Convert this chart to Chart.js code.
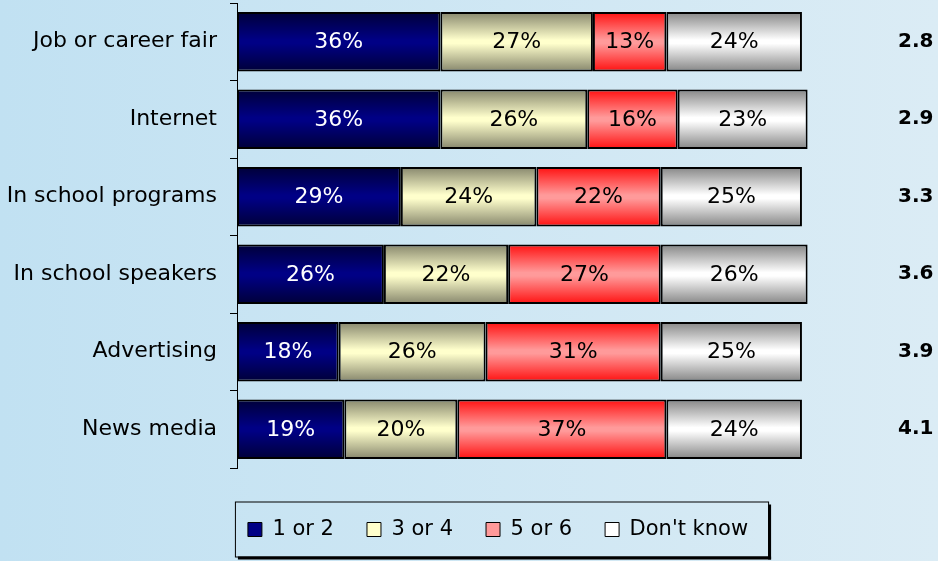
<!DOCTYPE html>
<html>
<head>
<meta charset="utf-8">
<script src="https://cdn.jsdelivr.net/npm/chart.js@4"></script>
<style>
  html, body { margin: 0; padding: 0; }
  #wrap { width: 938px; height: 561px; }
</style>
</head>
<body>
<div id="wrap"><canvas id="myChart" width="938" height="561"></canvas></div>
<script>
const categories = ['Job or career fair', 'Internet', 'In school programs', 'In school speakers', 'Advertising', 'News media'];
const seriesNames = ['1 or 2', '3 or 4', '5 or 6', "Don't know"];
const oneOrTwo = [36, 36, 29, 26, 18, 19];
const threeOrFour = [27, 26, 24, 22, 26, 20];
const fiveOrSix = [13, 16, 22, 27, 31, 37];
const dontKnow = [24, 23, 25, 26, 25, 24];
const meanScores = ['2.8', '2.9', '3.3', '3.6', '3.9', '4.1'];

// edge / middle colours of the shaded bars
const shades = [
    { edge: '#000038', mid: '#000085', text: '#ffffff' },
    { edge: '#86866c', mid: '#ffffcc', text: '#000000' },
    { edge: '#ff1010', mid: '#ff9a9a', text: '#000000' },
    { edge: '#858585', mid: '#ffffff', text: '#000000' }
];

const BAR_PCT = 0.77;
const FONT = "'DejaVu Sans', Verdana, sans-serif";

function barFill(i) {
    return function(context) {
        const s = shades[i];
        if (context.type !== 'data') return s.mid;
        const chart = context.chart;
        const yScale = chart.scales.y;
        if (!yScale) return s.mid;
        const cy = yScale.getPixelForValue(context.dataIndex);
        const half = (yScale.height / categories.length) * BAR_PCT / 2;
        const g = chart.ctx.createLinearGradient(0, cy - half, 0, cy + half);
        g.addColorStop(0, s.edge);
        g.addColorStop(0.47, s.mid);
        g.addColorStop(0.53, s.mid);
        g.addColorStop(1, s.edge);
        return g;
    };
}

const background = {
    id: 'background',
    beforeDraw(chart) {
        const { ctx, width, height } = chart;
        const g = ctx.createLinearGradient(0, 0, width, 0);
        g.addColorStop(0, '#c1e1f2');
        g.addColorStop(1, '#dbecf5');
        ctx.save();
        ctx.fillStyle = g;
        ctx.fillRect(0, 0, width, height);
        ctx.restore();
    }
};

// legend sits a bit right of the canvas centre
const legendShift = {
    id: 'legendShift',
    afterLayout(chart) {
        if (chart.legend) chart.legend.left = 58;
    }
};

const barValues = {
    id: 'barValues',
    afterDatasetsDraw(chart) {
        const ctx = chart.ctx;
        ctx.save();
        ctx.font = '22px ' + FONT;
        ctx.textAlign = 'center';
        ctx.textBaseline = 'middle';
        chart.data.datasets.forEach((ds, i) => {
            const meta = chart.getDatasetMeta(i);
            ctx.fillStyle = shades[i].text;
            meta.data.forEach((bar, j) => {
                ctx.fillText(ds.data[j] + '%', (bar.x + bar.base) / 2, bar.y + 1);
            });
        });
        ctx.restore();
    }
};

const legendFrame = {
    id: 'legendFrame',
    afterDraw(chart) {
        const lg = chart.legend;
        if (!lg || !lg.legendHitBoxes || !lg.legendHitBoxes.length) return;
        const boxes = lg.legendHitBoxes;
        const first = boxes[0];
        const last = boxes[boxes.length - 1];
        const cy = first.top + first.height / 2;
        const x1 = first.left - 13;
        const x2 = last.left + last.width + 20;
        const y1 = cy - 28;
        const y2 = cy + 27;
        const ctx = chart.ctx;
        ctx.save();
        ctx.fillStyle = '#000';
        ctx.fillRect(x1 + 3, y2, x2 - x1, 3);
        ctx.fillRect(x2, y1 + 3, 3, y2 - y1);
        ctx.strokeStyle = '#000';
        ctx.lineWidth = 1;
        ctx.strokeRect(x1 + 0.5, y1 + 0.5, x2 - x1, y2 - y1);
        ctx.restore();
    }
};

const allSeries = [oneOrTwo, threeOrFour, fiveOrSix, dontKnow];

new Chart(document.getElementById('myChart').getContext('2d'), {
    type: 'bar',
    data: {
        labels: categories,
        datasets: allSeries.map((values, i) => ({
            label: seriesNames[i],
            data: values,
            backgroundColor: barFill(i),
            borderColor: '#000',
            borderWidth: 2,
            borderSkipped: false,
            barPercentage: BAR_PCT,
            categoryPercentage: 1
        }))
    },
    options: {
        indexAxis: 'y',
        responsive: false,
        animation: false,
        layout: { padding: { left: 0, right: 0, top: 3, bottom: 11 } },
        scales: {
            x: {
                stacked: true,
                min: 0,
                max: 117,
                grid: { display: false, drawTicks: false },
                border: { display: false },
                ticks: { display: false },
                afterFit: s => { s.height = 18; }
            },
            y: {
                stacked: true,
                grid: { display: true, drawOnChartArea: false, color: '#000', tickLength: 7, offset: true },
                border: { display: true, color: '#000', width: 1 },
                ticks: { color: '#000', padding: 13, font: { family: FONT, size: 22 } },
                afterFit: s => { s.width = 237; s.paddingTop = 0; s.paddingBottom = 0; }
            },
            y2: {
                type: 'category',
                axis: 'y',
                labels: meanScores,
                position: 'right',
                offset: true,
                grid: { display: false, drawTicks: false },
                border: { display: false },
                ticks: { color: '#000', padding: 0, font: { family: FONT, size: 20, weight: 'bold' } },
                afterFit: s => { s.width = 40; s.paddingTop = 0; s.paddingBottom = 0; }
            }
        },
        plugins: {
            tooltip: { enabled: false },
            legend: {
                position: 'bottom',
                labels: {
                    color: '#000',
                    boxWidth: 14,
                    boxHeight: 14,
                    padding: 33,
                    font: { family: FONT, size: 21 },
                    generateLabels: chart => seriesNames.map((name, i) => ({
                        text: name,
                        fillStyle: shades[i].mid,
                        strokeStyle: '#000',
                        lineWidth: 1,
                        datasetIndex: i
                    }))
                }
            }
        }
    },
    plugins: [background, legendShift, barValues, legendFrame]
});
</script>
</body>
</html>
